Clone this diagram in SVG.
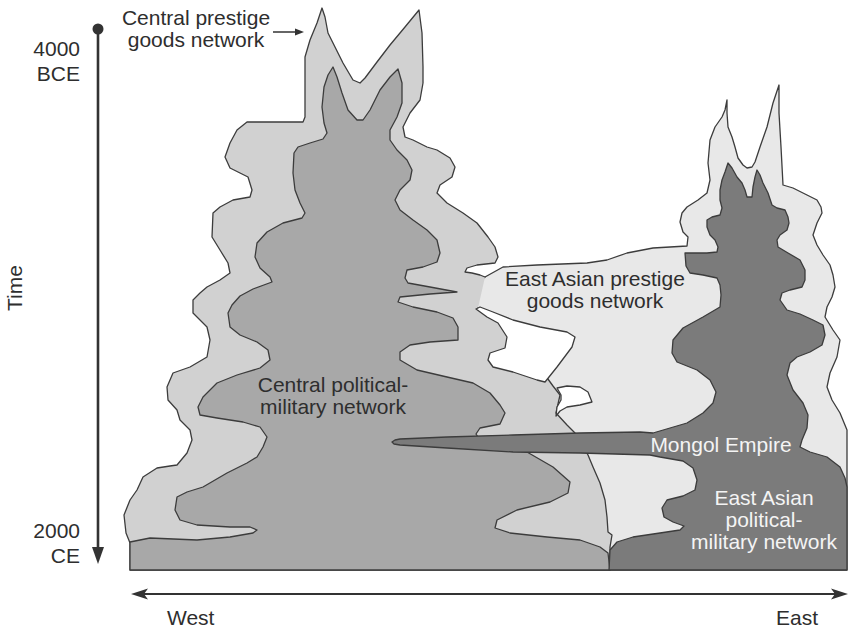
<svg xmlns="http://www.w3.org/2000/svg" width="849" height="631" viewBox="0 0 849 631">
<style>
.o{stroke:#3c3c3c;stroke-width:1.3;stroke-linejoin:round;stroke-linecap:round}
.n{stroke:none}
.cp{fill:#d1d1d1}
.cm{fill:#a8a8a8}
.ep{fill:#e8e8e8}
.em{fill:#7b7b7b}
.hole{fill:#ffffff}
.line{fill:none}
text{font-family:"Liberation Sans",Arial,Helvetica,sans-serif;font-size:21px;fill:#2e2e2e}
.w{fill:#f4f4f4}
.ax{stroke:#333;stroke-width:2.2;fill:none}
.ah{fill:#333}
</style>
<rect width="849" height="631" fill="#fff"/>

<g id="east-asian-prestige">
<path class="ep o" d="M485,277 L503,267 L537,265 L587,263 L607,260 L627,253 L653,248 L687,246 L688,237 L683,232 L680,222 L682,213 L687,207 L698,200 L707,193 L710,180 L708,163 L710,140 L715,127 L722,117 L725,110 L727,100 L727,113 L728,127 L732,137 L735,147 L738,158 L743,165 L747,168 L752,167 L755,162 L760,147 L767,127 L773,103 L779,85 L779,113 L781,147 L783,185 L793,188 L807,195 L817,200 L821,207 L822,213 L817,223 L813,235 L817,245 L823,255 L830,265 L833,275 L835,287 L832,297 L827,307 L825,317 L833,330 L840,340 L837,357 L830,373 L827,387 L832,400 L840,413 L847,430 L847,570 L560,570 L470,440 L470,290 Z"/>
</g>

<g id="central-prestige">
<path class="cp n" d="M478,308 L500,318 L530,340 L545,375 L553,386 L560,395 L556,413 L567,425 L575,433 L588,455 L593,467 L600,483 L605,500 L607,517 L608,532 L612,535 L610,547 L610,570 L130,570 L130,543 L126,533 L124,515 L130,500 L137,490 L143,477 L157,468 L170,466 L177,465 L187,453 L192,440 L190,430 L180,420 L177,410 L168,400 L167,387 L173,373 L190,367 L207,357 L210,340 L207,327 L193,313 L193,300 L200,293 L207,287 L220,280 L230,273 L228,263 L220,250 L212,237 L213,213 L220,207 L233,200 L250,197 L252,190 L248,177 L240,173 L230,168 L225,157 L230,143 L237,130 L247,122 L303,122 L305,117 L305,93 L305,57 L310,40 L317,23 L322,8 L325,17 L328,33 L335,47 L343,63 L353,80 L360,83 L365,78 L377,62 L390,45 L405,27 L419,10 L422,33 L423,67 L423,83 L420,100 L410,113 L403,127 L405,137 L413,140 L427,147 L437,150 L450,158 L455,167 L452,177 L440,185 L437,193 L447,203 L463,213 L477,223 L488,237 L495,247 L498,257 L495,263 L477,265 L467,268 L465,272 L472,273 L480,275 L485,277 Z"/>
<path class="line o" d="M478,308 L500,318 L530,340 L545,375 L553,386 L560,395 L556,413 L567,425 L575,433 L588,455 L593,467 L600,483 L605,500 L607,517 L608,532 L612,535 L610,547 L610,570 L130,570 L130,543 L126,533 L124,515 L130,500 L137,490 L143,477 L157,468 L170,466 L177,465 L187,453 L192,440 L190,430 L180,420 L177,410 L168,400 L167,387 L173,373 L190,367 L207,357 L210,340 L207,327 L193,313 L193,300 L200,293 L207,287 L220,280 L230,273 L228,263 L220,250 L212,237 L213,213 L220,207 L233,200 L250,197 L252,190 L248,177 L240,173 L230,168 L225,157 L230,143 L237,130 L247,122 L303,122 L305,117 L305,93 L305,57 L310,40 L317,23 L322,8 L325,17 L328,33 L335,47 L343,63 L353,80 L360,83 L365,78 L377,62 L390,45 L405,27 L419,10 L422,33 L423,67 L423,83 L420,100 L410,113 L403,127 L405,137 L413,140 L427,147 L437,150 L450,158 L455,167 L452,177 L440,185 L437,193 L447,203 L463,213 L477,223 L488,237 L495,247 L498,257 L495,263 L477,265 L467,268 L465,272 L472,273 L480,275 L485,277"/>
</g>

<g id="gaps">
<path class="hole o" d="M476,309 L480,307 L493,312 L513,320 L540,327 L567,332 L575,337 L572,347 L557,367 L545,382 L537,380 L513,372 L493,367 L488,360 L490,353 L505,348 L507,337 L498,323 L487,317 Z"/>
<path class="hole o" d="M557,388 L567,386 L580,387 L588,392 L592,402 L580,405 L567,407 L560,411 L556,416 L557,407 L561,400 L561,395 Z"/>
</g>

<g id="central-political-military">
<path class="cm o" d="M130,570 L130,542 L150,538 L197,540 L230,537 L253,533 L257,530 L250,527 L230,527 L197,525 L180,520 L175,510 L177,497 L187,492 L203,487 L227,473 L247,463 L257,457 L263,447 L267,437 L260,427 L243,422 L217,418 L200,415 L198,407 L203,397 L217,383 L237,375 L260,368 L270,360 L268,350 L257,342 L240,335 L230,327 L228,313 L232,305 L240,296 L253,289 L272,282 L270,277 L260,268 L255,257 L257,243 L267,232 L283,223 L302,218 L305,213 L300,203 L295,190 L293,173 L294,153 L298,147 L310,143 L323,139 L327,133 L324,123 L322,107 L324,87 L328,75 L333,67 L337,77 L342,93 L348,110 L357,120 L363,120 L370,110 L380,90 L390,77 L398,69 L402,83 L402,103 L397,117 L390,130 L390,140 L397,150 L407,160 L412,170 L410,180 L400,190 L395,200 L400,210 L413,220 L427,230 L437,240 L440,253 L437,262 L423,267 L407,270 L405,278 L408,283 L430,287 L457,292 L430,294 L400,297 L398,302 L413,307 L437,312 L453,318 L458,327 L458,340 L430,342 L410,345 L400,352 L400,360 L417,370 L447,377 L473,383 L490,393 L500,405 L505,413 L500,424 L480,428 L476,434 L478,437 L500,445 L527,452 L553,467 L570,482 L568,493 L550,502 L517,510 L497,520 L495,528 L510,533 L547,537 L580,540 L600,547 L608,553 L610,570 Z"/>
</g>

<g id="east-asian-political-military">
<path class="em o" d="M400,439 L447,437 L513,435 L580,433 L640,432 L653,433 L670,428 L687,423 L703,413 L713,403 L716,392 L710,380 L697,370 L677,362 L672,353 L673,340 L683,328 L703,317 L720,307 L721,295 L720,285 L717,278 L703,275 L690,273 L686,266 L685,253 L707,253 L717,252 L718,247 L715,240 L710,235 L707,227 L707,220 L712,217 L720,215 L722,208 L720,200 L720,190 L722,180 L725,172 L728,163 L732,168 L737,177 L742,183 L745,190 L747,197 L752,197 L753,187 L755,177 L757,170 L760,175 L763,183 L768,193 L772,205 L777,208 L785,210 L788,217 L789,223 L787,230 L780,235 L777,240 L778,247 L788,253 L800,260 L805,270 L805,280 L802,287 L790,290 L782,293 L780,300 L787,310 L800,314 L813,320 L823,325 L825,335 L822,345 L810,352 L797,357 L790,363 L787,375 L793,390 L803,403 L808,415 L807,428 L802,440 L800,447 L810,452 L827,457 L840,467 L845,478 L847,487 L847,570 L609,570 L610,550 L617,542 L633,537 L660,533 L680,530 L684,526 L673,522 L664,517 L662,508 L667,500 L683,496 L695,490 L697,480 L693,468 L683,461 L660,457 L650,455 L580,453 L513,452 L447,448 L400,445 L394,444 L392,442 L395,440 Z"/>
</g>

<g id="connectors">
<circle cx="98" cy="29" r="5.5" class="ah"/>
<line class="ax" x1="98" y1="29" x2="98" y2="552" style="stroke-width:2.6"/>
<polygon class="ah" points="92,547 98,564 104,547"/>
<line class="ax" x1="140" y1="594" x2="840" y2="594"/>
<polygon class="ah" points="131,594 148,588.5 144,594 148,599.5"/>
<polygon class="ah" points="848,594 831,588.5 835,594 831,599.5"/>
<line class="ax" x1="273" y1="32" x2="297" y2="32" style="stroke-width:1.5"/>
<polygon class="ah" points="304,32 295,28.5 295,35.5"/>
</g>

<g id="labels">
<text x="80" y="56" text-anchor="end">4000</text>
<text x="80" y="81" text-anchor="end">BCE</text>
<text x="80" y="538" text-anchor="end">2000</text>
<text x="80" y="563" text-anchor="end">CE</text>
<text transform="translate(22,288) rotate(-90)" text-anchor="middle">Time</text>
<text x="167" y="625">West</text>
<text x="818" y="625" text-anchor="end">East</text>
<text x="196" y="25" text-anchor="middle">Central prestige</text>
<text x="196" y="47" text-anchor="middle">goods network</text>
<text x="595" y="286" text-anchor="middle">East Asian prestige</text>
<text x="595" y="308" text-anchor="middle">goods network</text>
<text x="333" y="392" text-anchor="middle">Central political-</text>
<text x="333" y="414" text-anchor="middle">military network</text>
<text class="w" x="721" y="452" text-anchor="middle">Mongol Empire</text>
<text class="w" x="764" y="505" text-anchor="middle">East Asian</text>
<text class="w" x="764" y="527" text-anchor="middle">political-</text>
<text class="w" x="764" y="549" text-anchor="middle">military network</text>
</g>
</svg>
